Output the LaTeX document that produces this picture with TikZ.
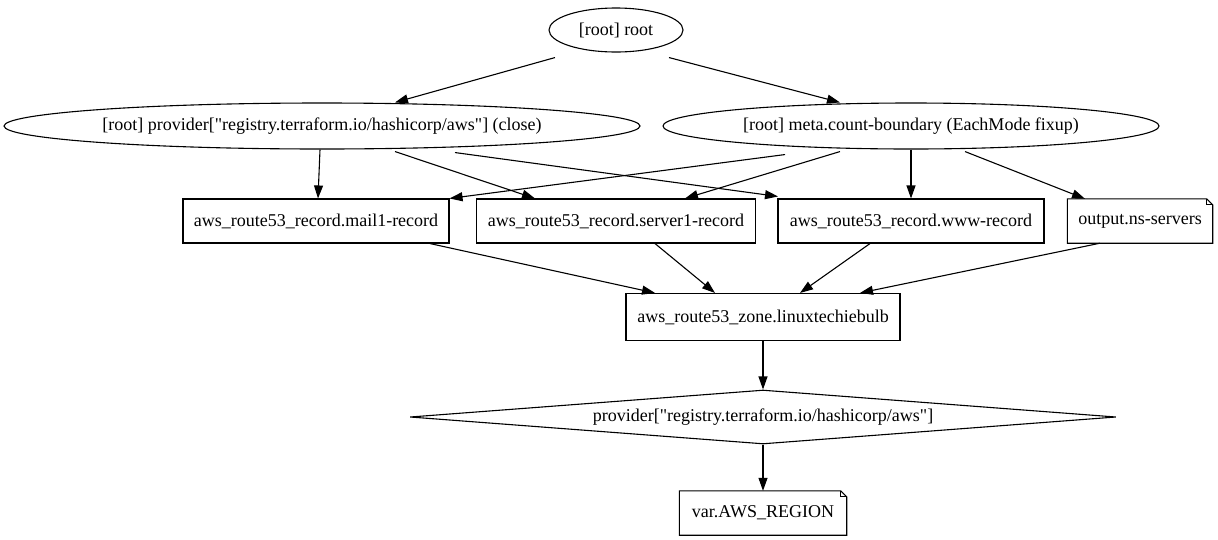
\documentclass[tikz,border=0pt]{standalone}
\usepackage{fontspec}
\setmainfont{Liberation Serif}
\usetikzlibrary{shapes.geometric,arrows.meta,calc}
\begin{document}
\begin{tikzpicture}[x=1pt,y=-1pt,
  every node/.style={font=\fontsize{18pt}{20pt}\selectfont, inner sep=0pt},
  ell/.style={draw, ellipse, line width=1.1pt},
  box/.style={draw, rectangle, line width=1.1pt},
  notebox/.style={rectangle},
  dia/.style={draw, diamond, line width=1.1pt},
  edge/.style={line width=1.1pt, -{Triangle[length=13pt,width=9pt]}}
]
\useasboundingbox (0,0) rectangle (1218,539);
\node[ell, minimum width=134pt, minimum height=44pt] (root) at (616,30) {[root] root};
\node[ell, minimum width=636pt, minimum height=46pt] (prov) at (322,126) {[root] provider[\textquotedbl registry.terraform.io/hashicorp/aws\textquotedbl] (close)};
\node[ell, minimum width=496pt, minimum height=46pt] (meta) at (911,126) {[root] meta.count-boundary (EachMode fixup)};
\node[box, minimum width=266pt, minimum height=44pt] (mail) at (316,221) {aws\_route53\_record.mail1-record};
\node[box, minimum width=279pt, minimum height=44pt] (server) at (616,221) {aws\_route53\_record.server1-record};
\node[box, minimum width=266pt, minimum height=44pt] (www) at (911,221) {aws\_route53\_record.www-record};
\node[notebox, minimum width=145pt, minimum height=44pt] (out) at (1140,221) {output.ns-servers};
\node[box, minimum width=274pt, minimum height=47pt] (zone) at (763,317) {aws\_route53\_zone.linuxtechiebulb};
\node[dia, minimum width=706pt, minimum height=54pt, aspect=13] (prv) at (763,417) {provider[\textquotedbl registry.terraform.io/hashicorp/aws\textquotedbl]};
\node[notebox, minimum width=167pt, minimum height=44pt] (var) at (763,513) {var.AWS\_REGION};
% note shapes
\foreach \n in {out,var}{
  \draw[line width=1.1pt] (\n.south west) -- (\n.south east) -- ([yshift=-6pt]\n.north east) -- ([xshift=-6pt]\n.north east) -- (\n.north west) -- cycle;
  \draw[line width=1.1pt] ([xshift=-6pt]\n.north east) -- ([xshift=-6pt,yshift=-6pt]\n.north east) -- ([yshift=-6pt]\n.north east);
}
% edges
\draw[edge] ([xshift=-61pt,yshift=-5pt]root.south) -- ([xshift=73pt]prov.north);
\draw[edge] ([xshift=53pt,yshift=-5pt]root.south) -- ([xshift=-71pt]meta.north);
\draw[edge] ([xshift=-2pt]prov.south) -- ([xshift=2pt]mail.north);
\draw[edge] ([xshift=73pt,yshift=-2pt]prov.south) -- ([xshift=-81pt]server.north);
\draw[edge] ([xshift=133pt,yshift=-3pt]prov.south) -- ([xshift=-133pt,yshift=2pt]www.north);
\draw[edge] ([xshift=-126pt,yshift=-5pt]meta.south) -- (mail.north east);
\draw[edge] ([xshift=-71pt,yshift=-2pt]meta.south) -- ([xshift=69pt]server.north);
\draw[edge] (meta.south) -- (www.north);
\draw[edge] ([xshift=54pt,yshift=-2pt]meta.south) -- ([xshift=-55pt]out.north);
\draw[edge] ([xshift=114pt]mail.south) -- ([xshift=-108pt]zone.north);
\draw[edge] ([xshift=39pt]server.south) -- ([xshift=-48pt]zone.north);
\draw[edge] ([xshift=-41pt]www.south) -- ([xshift=37pt]zone.north);
\draw[edge] ([xshift=-40pt]out.south) -- ([xshift=97pt]zone.north);
\draw[edge] (zone.south) -- (prv.north);
\draw[edge] (prv.south) -- (var.north);
\end{tikzpicture}
\end{document}
